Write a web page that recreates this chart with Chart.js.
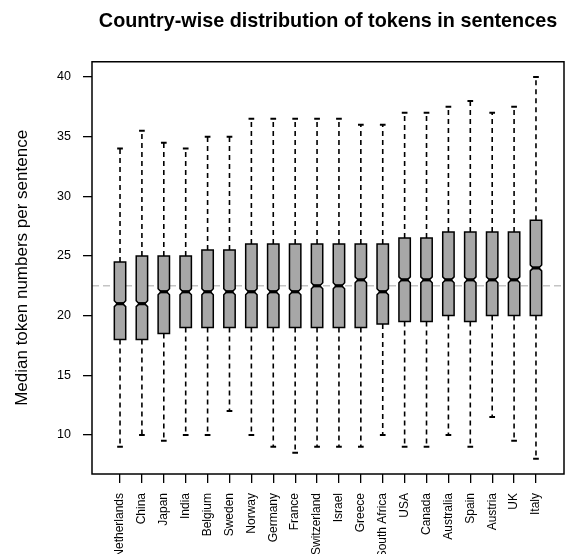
<!DOCTYPE html>
<html>
<head>
<meta charset="utf-8">
<script src="https://cdn.jsdelivr.net/npm/chart.js@4"></script>
<style>
  html, body { margin: 0; padding: 0; background: #fff; }
  canvas { display: block; }
</style>
</head>
<body>
<canvas id="chart" width="566" height="554"></canvas>
<script>
"use strict";

// Per-country token stats (five-number summary of the sentence lengths).
const countries = ["Netherlands", "China", "Japan", "India", "Belgium", "Sweden", "Norway",
  "Germany", "France", "Switzerland", "Israel", "Greece", "South Africa", "USA", "Canada",
  "Australia", "Spain", "Austria", "UK", "Italy"];
const lowerWhisker = [9, 10, 9.5, 10, 10, 12, 10, 9, 8.5, 9, 9, 9, 10, 9, 9, 10, 9, 11.5, 9.5, 8];
const lowerQuartile = [18, 18, 18.5, 19, 19, 19, 19, 19, 19, 19, 19, 19, 19.3, 19.5, 19.5, 20, 19.5, 20, 20, 20];
const medians = [21, 21, 22, 22, 22, 22, 22, 22, 22, 22.5, 22.5, 23, 22, 23, 23, 23, 23, 23, 23, 24];
const upperQuartile = [24.5, 25, 25, 25, 25.5, 25.5, 26, 26, 26, 26, 26, 26, 26, 26.5, 26.5, 27, 27, 27, 27, 28];
const upperWhisker = [34, 35.5, 34.5, 34, 35, 35, 36.5, 36.5, 36.5, 36.5, 36.5, 36, 36, 37, 37, 37.5, 38, 37, 37.5, 40];
const overallMedian = 22.5;
const yTicks = [10, 15, 20, 25, 30, 35, 40];

const FONT = "'Liberation Sans', Arial, Helvetica, sans-serif";
const BOX_FILL = "#a7a7a7";
const BOX_HALF = 0.26;   // half box width, x units
const NOTCH = 0.25;      // notch half-height, y units

const $ = (id) => document.getElementById(id);

// Draws the notched boxes, dashed whiskers, staples and the plot frame.
const boxPlot = {
  id: "boxPlot",
  beforeDatasetsDraw(chart) {
    const { ctx, chartArea: a, scales: { y } } = chart;
    const yy = y.getPixelForValue(overallMedian);
    ctx.save();
    ctx.strokeStyle = "#c4c4c4";
    ctx.lineWidth = 1.3;
    ctx.setLineDash([7, 4]);
    ctx.beginPath();
    ctx.moveTo(a.left, yy);
    ctx.lineTo(a.right, yy);
    ctx.stroke();
    ctx.restore();
  },
  afterDatasetsDraw(chart) {
    const { ctx, chartArea: a, scales: { x, y } } = chart;
    ctx.save();
    countries.forEach((_, i) => {
      const c = x.getPixelForValue(i + 1);
      const w = x.getPixelForValue(i + 1 + BOX_HALF) - c;
      const q1 = y.getPixelForValue(lowerQuartile[i]);
      const q3 = y.getPixelForValue(upperQuartile[i]);
      const md = y.getPixelForValue(medians[i]);
      const nLo = y.getPixelForValue(medians[i] - NOTCH);
      const nHi = y.getPixelForValue(medians[i] + NOTCH);
      const lo = y.getPixelForValue(lowerWhisker[i]);
      const hi = y.getPixelForValue(upperWhisker[i]);

      // whiskers: dashed, drawn outward from the box
      ctx.strokeStyle = "#000";
      ctx.lineWidth = 1.6;
      ctx.setLineDash([5, 4]);
      ctx.beginPath();
      ctx.moveTo(c, q3); ctx.lineTo(c, hi);
      ctx.moveTo(c, q1); ctx.lineTo(c, lo);
      ctx.stroke();

      // staples
      ctx.setLineDash([]);
      ctx.lineWidth = 2;
      ctx.beginPath();
      ctx.moveTo(c - w / 2, hi); ctx.lineTo(c + w / 2, hi);
      ctx.moveTo(c - w / 2, lo); ctx.lineTo(c + w / 2, lo);
      ctx.stroke();

      // notched box
      ctx.beginPath();
      ctx.moveTo(c - w, q1);
      ctx.lineTo(c - w, nLo);
      ctx.lineTo(c - w / 2, md);
      ctx.lineTo(c - w, nHi);
      ctx.lineTo(c - w, q3);
      ctx.lineTo(c + w, q3);
      ctx.lineTo(c + w, nHi);
      ctx.lineTo(c + w / 2, md);
      ctx.lineTo(c + w, nLo);
      ctx.lineTo(c + w, q1);
      ctx.closePath();
      ctx.fillStyle = BOX_FILL;
      ctx.fill();
      ctx.lineWidth = 1.5;
      ctx.lineJoin = "miter";
      ctx.stroke();

      // median bar
      ctx.lineWidth = 3.2;
      ctx.beginPath();
      ctx.moveTo(c - w / 2 - 1, md);
      ctx.lineTo(c + w / 2 + 1, md);
      ctx.stroke();
    });

    // frame around the plot region
    ctx.strokeStyle = "#000";
    ctx.lineWidth = 1.5;
    ctx.strokeRect(a.left, a.top, a.right - a.left, a.bottom - a.top);
    ctx.restore();
  },
};

new Chart($("chart"), {
  type: "scatter",
  data: {
    datasets: [{
      data: medians.map((m, i) => ({ x: i + 1, y: m })),
      pointRadius: 0,
      showLine: false,
    }],
  },
  options: {
    responsive: false,
    animation: false,
    devicePixelRatio: 1,
    layout: { padding: { left: 0, right: 2, top: 0, bottom: 0 } },
    plugins: {
      legend: { display: false },
      tooltip: { enabled: false },
      title: {
        display: true,
        fullSize: false,
        text: "Country-wise distribution of tokens in sentences",
        color: "#000",
        font: { family: FONT, size: 19.8, weight: "bold" },
        padding: { top: 10, bottom: 28 },
      },
    },
    scales: {
      x: {
        type: "linear",
        min: -0.28,
        max: 21.28,
        afterBuildTicks: (s) => { s.ticks = countries.map((_, i) => ({ value: i + 1 })); },
        afterFit: (s) => { s.height = 80; },
        border: { display: false },
        grid: { drawOnChartArea: false, drawTicks: true, tickLength: 9, color: "#000", lineWidth: 1.3 },
        ticks: {
          autoSkip: false,
          minRotation: 90,
          maxRotation: 90,
          padding: 10,
          color: "#000",
          font: { family: FONT, size: 12 },
          callback: (v) => countries[v - 1],
        },
      },
      y: {
        min: 6.72,
        max: 41.28,
        afterBuildTicks: (s) => { s.ticks = yTicks.map((v) => ({ value: v })); },
        afterFit: (s) => { s.width = 92; },
        border: { display: false },
        grid: { drawOnChartArea: false, drawTicks: true, tickLength: 9, color: "#000", lineWidth: 1.3 },
        ticks: { padding: 12, color: "#000", font: { family: FONT, size: 12.5 } },
        title: {
          display: true,
          text: "Median token numbers per sentence",
          color: "#000",
          font: { family: FONT, size: 17 },
          padding: { top: 12, bottom: 0 },
        },
      },
    },
  },
  plugins: [boxPlot],
});
</script>
</body>
</html>
